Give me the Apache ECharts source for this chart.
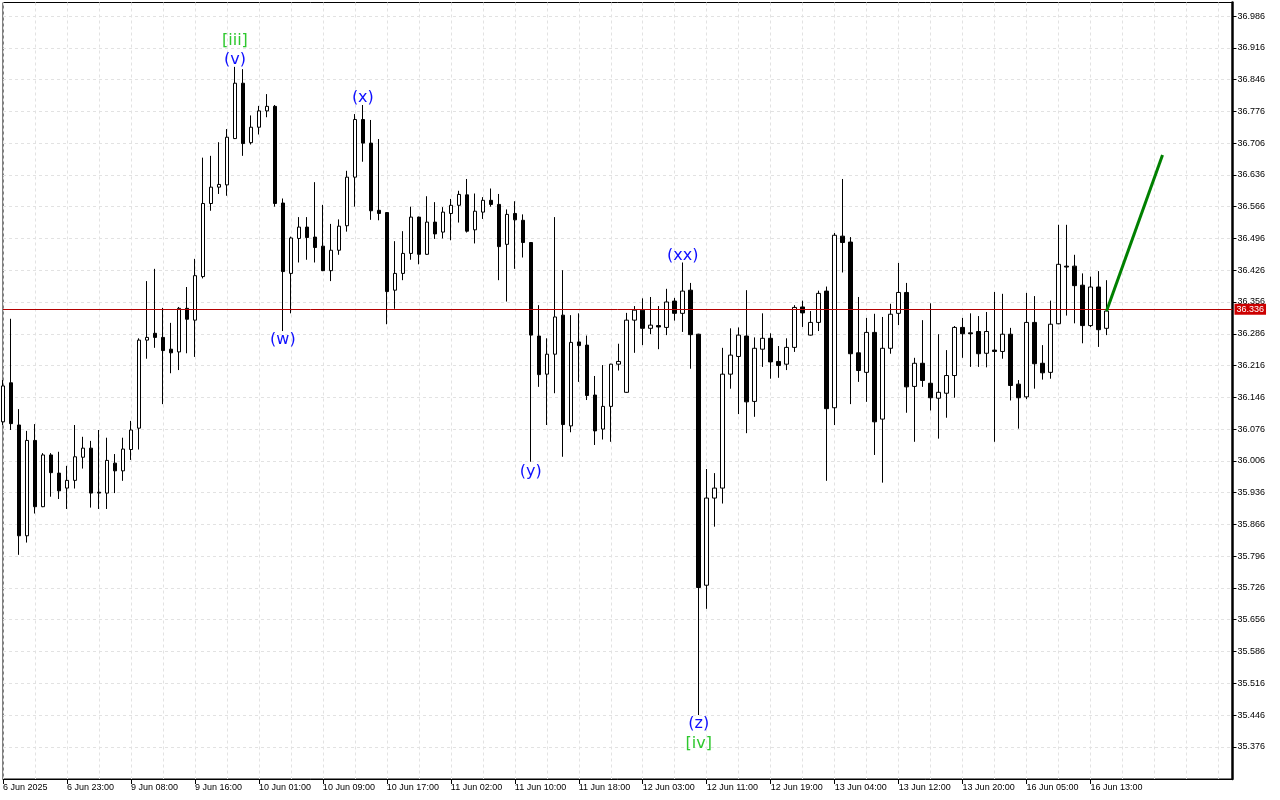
<!DOCTYPE html>
<html><head><meta charset="utf-8">
<script src="https://cdn.jsdelivr.net/npm/echarts@6/dist/echarts.min.js"></script>
<style>html,body{margin:0;padding:0;background:#fff}#c{width:1280px;height:800px}</style>
</head><body><div id="c"></div>
<script>
// Hourly bars, index 0 = first bar (6 Jun 2025)
const opens = [36.092,36.178,36.085,35.841,36.051,35.905,36.019,35.979,35.946,35.963,36.014,36.034,35.937,35.935,36.001,35.984,36.031,36.078,36.272,36.287,
36.278,36.252,36.246,36.342,36.316,36.412,36.573,36.609,36.614,36.716,36.838,36.707,36.741,36.777,36.787,36.574,36.419,36.496,36.521,36.499,
36.479,36.425,36.470,36.524,36.631,36.758,36.706,36.558,36.553,36.382,36.419,36.463,36.543,36.461,36.532,36.510,36.551,36.569,36.592,36.515,
36.554,36.580,36.571,36.483,36.551,36.536,36.487,36.281,36.197,36.241,36.327,36.083,36.268,36.261,36.151,36.076,36.126,36.219,36.157,36.316,
36.338,36.298,36.304,36.300,36.358,36.331,36.382,36.285,35.732,35.924,35.946,36.197,36.236,36.281,36.137,36.252,36.276,36.225,36.219,36.256,
36.345,36.283,36.311,36.380,36.123,36.501,36.488,36.244,36.201,36.289,36.098,36.254,36.331,36.377,36.170,36.221,36.177,36.144,36.155,36.194,
36.300,36.288,36.291,36.243,36.250,36.247,36.285,36.175,36.147,36.311,36.221,36.201,36.308,36.435,36.435,36.393,36.304,36.389,36.298];
const highs = [36.184,36.319,36.120,36.072,36.087,36.023,36.023,36.026,35.995,36.085,36.059,36.050,36.074,36.057,36.021,36.057,36.094,36.276,36.402,36.429,
36.343,36.310,36.345,36.389,36.451,36.674,36.678,36.708,36.737,36.874,36.869,36.767,36.788,36.814,36.790,36.584,36.500,36.543,36.543,36.620,
36.570,36.528,36.538,36.645,36.770,36.790,36.757,36.715,36.554,36.490,36.512,36.566,36.544,36.589,36.576,36.565,36.583,36.601,36.627,36.595,
36.587,36.606,36.594,36.560,36.578,36.549,36.488,36.349,36.276,36.543,36.426,36.327,36.331,36.282,36.193,36.217,36.220,36.264,36.332,36.347,
36.364,36.367,36.347,36.385,36.365,36.443,36.398,36.286,35.988,35.979,36.255,36.298,36.300,36.382,36.278,36.331,36.287,36.259,36.276,36.349,
36.359,36.336,36.381,36.390,36.508,36.627,36.499,36.367,36.321,36.330,36.323,36.352,36.442,36.398,36.233,36.316,36.353,36.285,36.250,36.303,
36.321,36.331,36.325,36.334,36.378,36.374,36.299,36.184,36.376,36.369,36.261,36.359,36.526,36.526,36.460,36.419,36.412,36.424,36.404];
const lows = [36.085,36.074,35.799,35.826,35.890,35.904,35.927,35.922,35.900,35.945,35.989,35.903,35.900,35.900,35.935,35.962,36.008,36.031,36.231,36.255,
36.131,36.199,36.206,36.243,36.235,36.408,36.557,36.594,36.590,36.715,36.678,36.703,36.725,36.763,36.566,36.292,36.331,36.443,36.449,36.443,
36.424,36.402,36.460,36.511,36.566,36.665,36.537,36.536,36.307,36.341,36.404,36.449,36.439,36.460,36.495,36.496,36.492,36.531,36.509,36.485,
36.539,36.566,36.404,36.357,36.429,36.454,36.004,36.169,36.085,36.155,36.015,36.069,36.180,36.140,36.041,36.053,36.048,36.205,36.156,36.244,
36.261,36.285,36.252,36.283,36.315,36.290,36.209,35.446,35.680,35.861,35.912,36.165,36.109,36.067,36.103,36.213,36.187,36.189,36.206,36.246,
36.301,36.282,36.292,35.962,36.085,36.421,36.131,36.180,36.136,36.019,35.958,36.242,36.305,36.112,36.048,36.169,36.117,36.055,36.101,36.145,
36.233,36.213,36.213,36.212,36.048,36.231,36.139,36.077,36.142,36.165,36.185,36.187,36.307,36.326,36.309,36.265,36.301,36.257,36.283];
const closes = [36.171,36.088,35.841,36.051,35.905,36.019,35.980,35.940,35.963,36.015,36.034,35.935,35.935,36.007,35.984,36.032,36.074,36.272,36.278,36.278,
36.249,36.244,36.342,36.318,36.414,36.573,36.609,36.615,36.719,36.838,36.705,36.741,36.777,36.787,36.573,36.423,36.497,36.521,36.498,36.476,
36.425,36.470,36.523,36.631,36.758,36.706,36.557,36.551,36.379,36.419,36.463,36.543,36.461,36.532,36.506,36.554,36.569,36.593,36.512,36.556,
36.580,36.571,36.478,36.549,36.537,36.487,36.283,36.196,36.241,36.323,36.086,36.267,36.260,36.150,36.072,36.126,36.219,36.225,36.316,36.338,
36.298,36.305,36.301,36.356,36.331,36.380,36.284,35.727,35.924,35.946,36.197,36.239,36.283,36.136,36.254,36.276,36.224,36.216,36.256,36.344,
36.332,36.311,36.375,36.121,36.503,36.487,36.242,36.205,36.289,36.092,36.254,36.329,36.377,36.169,36.221,36.183,36.145,36.157,36.194,36.300,
36.286,36.286,36.242,36.291,36.247,36.285,36.172,36.145,36.311,36.220,36.200,36.307,36.439,36.433,36.392,36.304,36.389,36.295,36.336];

const timeLabelIdx = [0,8,16,24,32,40,48,56,64,72,80,88,96,104,112,120,128,136];
const timeLabels = ['6 Jun 2025','6 Jun 23:00','9 Jun 08:00','9 Jun 16:00','10 Jun 01:00','10 Jun 09:00','10 Jun 17:00','11 Jun 02:00','11 Jun 10:00',
'11 Jun 18:00','12 Jun 03:00','12 Jun 11:00','12 Jun 19:00','13 Jun 04:00','13 Jun 12:00','13 Jun 20:00','16 Jun 05:00','16 Jun 13:00'];
const priceTicks = [35.376,35.446,35.516,35.586,35.656,35.726,35.796,35.866,35.936,36.006,36.076,36.146,36.216,36.286,36.356,36.426,36.496,
36.566,36.636,36.706,36.776,36.846,36.916,36.986];

const waveText = ['[iii]','(v)','(w)','(x)','(y)','(xx)','(z)','[iv]'];
const waveIdx = [29,29,35,45,66,85,87,87];
const wavePrice = [36.935,36.894,36.277,36.810,35.986,36.462,35.431,35.387];

const forecastIdx = [138,145];
const forecastPrice = [36.336,36.680];

const candleData = opens.map((o,i)=>[i,o,closes[i],lows[i],highs[i]]);
const lastClose = closes[closes.length-1];
const AXF = 'Liberation Sans';

const chart = echarts.init(document.getElementById('c'), null, {renderer:'canvas'});
chart.setOption({
  animation:false,
  backgroundColor:'#fff',
  grid:{left:2.5,right:47.5,top:2.5,bottom:21,show:true,borderColor:'#000',borderWidth:1,backgroundColor:'#fff'},
  xAxis:[{
    type:'value',min:0,max:153.75,position:'bottom',
    axisLine:{show:true,onZero:false,lineStyle:{color:'#000',width:1}},
    axisTick:{show:true,customValues:timeLabelIdx,length:5,lineStyle:{color:'#000'}},
    axisLabel:{show:true,customValues:timeLabelIdx,align:'left',margin:4,fontSize:9,fontFamily:AXF,color:'#000',
      formatter:v=>{const j=timeLabelIdx.indexOf(Math.round(v));return j>=0?timeLabels[j]:'';}},
    splitLine:{show:false}
  },{
    type:'value',min:0,max:153.75,interval:4,position:'top',
    axisLine:{show:false},axisTick:{show:false},axisLabel:{show:false},
    splitLine:{show:true,lineStyle:{color:'#e2e2e2',type:[3,3],width:1}}
  }],
  yAxis:{
    type:'value',position:'right',min:35.3051,max:37.0158,
    axisLine:{show:true,onZero:false,lineStyle:{color:'#000',width:2.5}},
    axisTick:{show:true,customValues:priceTicks,length:4,lineStyle:{color:'#000'}},
    axisLabel:{show:true,customValues:priceTicks,margin:5,fontSize:9,fontFamily:AXF,color:'#000',formatter:v=>v.toFixed(3)},
    splitLine:{show:true,lineStyle:{color:'#e2e2e2',type:[3,3],width:1}}
  },
  series:[{
    type:'candlestick',xAxisIndex:0,yAxisIndex:0,
    dimensions:['idx','open','close','lowest','highest'],
    encode:{x:0,y:[1,2,3,4]},
    data:candleData,
    barWidth:4,clip:true,large:false,
    itemStyle:{color:'#fff',color0:'#000',borderColor:'#000',borderColor0:'#000',borderColorDoji:'#000',borderWidth:1},
    emphasis:{disabled:true},
    markLine:{
      silent:true,symbol:['none','none'],animation:false,
      data:[{yAxis:lastClose}],
      lineStyle:{color:'#b40000',width:1,type:'solid'},
      label:{show:true,position:'end',distance:2,formatter:lastClose.toFixed(3),color:'#fff',backgroundColor:'#cc0000',
        fontSize:9,fontFamily:AXF,padding:[1,2,1,2]},
      emphasis:{disabled:true}
    }
  },{
    type:'line',xAxisIndex:0,yAxisIndex:0,
    data:forecastIdx.map((x,i)=>[x,forecastPrice[i]]),
    symbol:'none',lineStyle:{color:'#008000',width:3},z:5,silent:true
  },{
    type:'scatter',xAxisIndex:0,yAxisIndex:0,symbolSize:2,itemStyle:{color:'rgba(0,0,0,0)',opacity:1},silent:true,z:6,
    data:waveText.map((t,i)=>({value:[waveIdx[i],wavePrice[i]],
      label:{color:t.charAt(0)==='['?'#2ec82e':'#0f0fff'}})),
    label:{show:true,position:'inside',offset:[0,2],fontFamily:'DejaVu Sans',fontSize:16,opacity:1,
      formatter:p=>waveText[p.dataIndex]},
    emphasis:{disabled:true}
  }]
});
</script></body></html>
